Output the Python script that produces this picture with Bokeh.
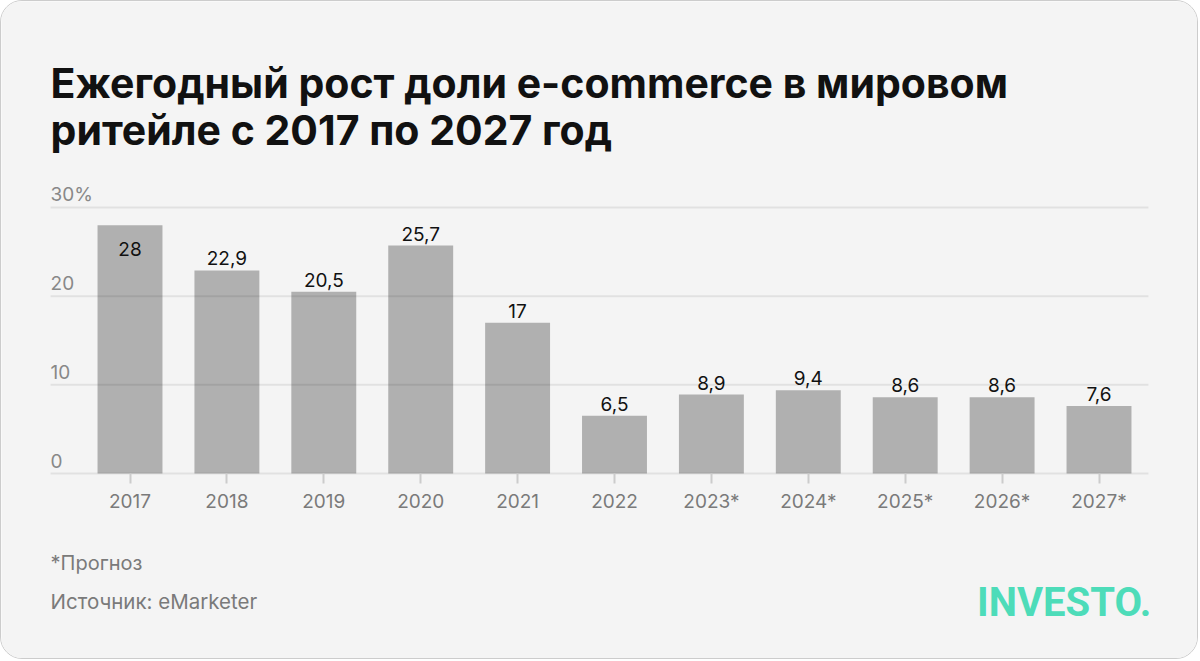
from bokeh.plotting import figure
from bokeh.models import (ColumnDataSource, Range1d, FixedTicker, Label,
                          InlineStyleSheet)
from bokeh.core.properties import value
from bokeh.embed import file_html
from bokeh.resources import INLINE

# ---- data ----
years = ["2017", "2018", "2019", "2020", "2021", "2022",
         "2023*", "2024*", "2025*", "2026*", "2027*"]
growth = [28, 22.9, 20.5, 25.7, 17, 6.5, 8.9, 9.4, 8.6, 8.6, 7.6]
y_ticks = [0, 10, 20, 30]
y_tick_labels = ["0", "10", "20", "30%"]

title_lines = ["Ежегодный рост доли e-commerce в мировом",
               "ритейле с 2017 по 2027 год"]
note_text = "*Прогноз"
source_text = "Источник: eMarketer"
logo_text = "INVESTO."

BG = "#f4f4f4"
BAR = "#b0b0b0"
FONT = "Inter"

# plot-area extent in data units (x: category index, y: percent)
X_LEFT, X_RIGHT = -0.82, 10.51

xs = list(range(len(years)))
bar_labels = [f"{v:g}".replace(".", ",") for v in growth]
label_off = [24 if v > 27 else -12 for v in growth]

src = ColumnDataSource(dict(x=xs, top=growth, lab=bar_labels, off=label_off))

W, H = 1198, 659
PX = 96.9  # px per category
PY = 8.867  # px per percent
y_top = 472 / PY
y_bot = -187 / PY

p = figure(width=W, height=H, output_backend="svg", toolbar_location=None,
           x_range=Range1d((1 - 129.5) / PX, (1199 - 129.5) / PX),
           y_range=Range1d(y_bot, y_top),
           y_axis_location=None, min_border=0,
           background_fill_color=BG, border_fill_color=BG, outline_line_color=None)

p.stylesheets.append(InlineStyleSheet(css=":host { border: 1px solid #cccccc; border-radius: 22px; overflow: hidden; }"))

p.vbar(x="x", top="top", width=0.67, bottom=0, source=src,
       fill_color=BAR, line_color=None)

# gridlines over the bars
gsrc = ColumnDataSource(dict(x0=[X_LEFT] * len(y_ticks), x1=[X_RIGHT] * len(y_ticks),
                             y=y_ticks, t=y_tick_labels))
p.segment(x0="x0", y0="y", x1="x1", y1="y", source=gsrc,
          line_color="#000000", line_alpha=0.075, line_width=2)

p.text(x="x", y="top", text="lab", y_offset="off", source=src,
       text_align="center", text_baseline="alphabetic",
       text_font=value(FONT), text_font_size="19px", text_color="#111111")

# y tick labels placed above gridlines at left edge
p.text(x="x0", y="y", text="t", source=gsrc, y_offset=-13,
       text_align="left", text_baseline="alphabetic",
       text_font=value(FONT), text_font_size="19px", text_color="#888888")

p.xgrid.visible = False
p.ygrid.visible = False

# x axis pinned at y = 0
ax = p.xaxis[0]
ax.fixed_location = 0
ax.ticker = FixedTicker(ticks=xs)
ax.major_label_overrides = {i: y for i, y in enumerate(years)}
ax.axis_line_color = None
ax.major_tick_in = 0
ax.major_tick_out = 10
ax.major_tick_line_color = "#cccccc"
ax.major_tick_line_width = 2
ax.minor_tick_line_color = None
ax.major_label_standoff = 6
ax.major_label_text_font = FONT
ax.major_label_text_font_size = "19px"
ax.major_label_text_color = "#7a7a7a"

def lab(x, y_px, text, **kw):
    p.add_layout(Label(x=x, y=(473 - y_px) / PY, text=text,
                       text_baseline="alphabetic", **kw))

lab(X_LEFT, 82, title_lines[0], text_font="Inter", text_font_style="bold",
    text_font_size="41px", text_color="#111111")
lab(X_LEFT, 129, title_lines[1], text_font="Inter", text_font_style="bold",
    text_font_size="41px", text_color="#111111")
lab(X_LEFT, 562, note_text, text_font=FONT, text_font_size="20px", text_color="#7a7a7a")
lab(X_LEFT, 601, source_text, text_font=FONT, text_font_size="20.5px", text_color="#7a7a7a")
lab(X_RIGHT + 0.03, 602, logo_text, text_font="Roboto",
    text_font_style="bold", text_font_size="40px", text_color="#4ddcb9",
    text_align="right")

open("out.html", "w").write(file_html(p, INLINE))
